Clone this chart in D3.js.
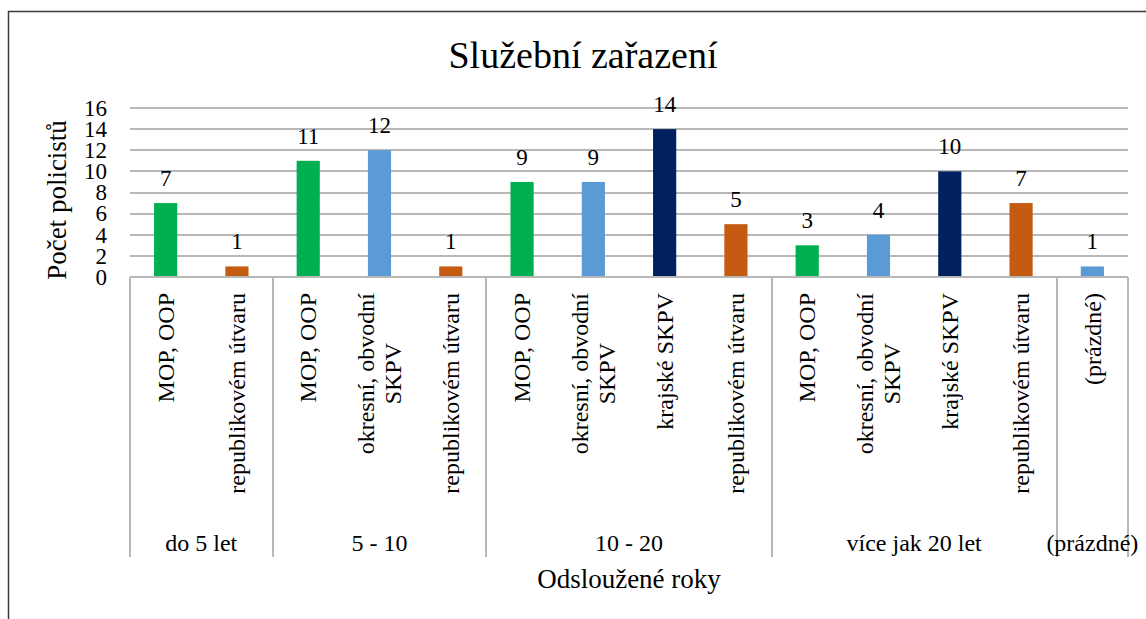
<!DOCTYPE html>
<html>
<head>
<meta charset="utf-8">
<script src="https://cdn.jsdelivr.net/npm/d3@7"></script>
</head>
<body style="margin:0; background:#fff">
<script>
// data
var groups = ['do 5 let', '5 - 10', '10 - 20', 'více jak 20 let', '(prázdné)'];
var categoryGroups = ['do 5 let', 'do 5 let',
  '5 - 10', '5 - 10', '5 - 10',
  '10 - 20', '10 - 20', '10 - 20', '10 - 20',
  'více jak 20 let', 'více jak 20 let', 'více jak 20 let', 'více jak 20 let',
  '(prázdné)'];
var categoryLabels = ['MOP, OOP', 'republikovém útvaru',
  'MOP, OOP', 'okresní, obvodní\nSKPV', 'republikovém útvaru',
  'MOP, OOP', 'okresní, obvodní\nSKPV', 'krajské SKPV', 'republikovém útvaru',
  'MOP, OOP', 'okresní, obvodní\nSKPV', 'krajské SKPV', 'republikovém útvaru',
  '(prázdné)'];
var values = [7, 1, 11, 12, 1, 9, 9, 14, 5, 3, 4, 10, 7, 1];
var yTicks = [0, 2, 4, 6, 8, 10, 12, 14, 16];

var colors = {
  'MOP, OOP': '#00b050',
  'okresní, obvodní\nSKPV': '#5b9bd5',
  'krajské SKPV': '#002060',
  'republikovém útvaru': '#c55a11',
  '(prázdné)': '#5b9bd5'
};

var width = 1146, height = 619;
var plot = { left: 130, right: 1128, top: 108, bottom: 277 };
var gridColor = '#b8b8b8';
var serif = '"Liberation Serif", "Times New Roman", serif';

var svg = d3.select('body').append('svg')
  .attr('width', width).attr('height', height);

// chart frame
svg.append('rect')
  .attr('x', 8.5).attr('y', 11.5)
  .attr('width', 1160).attr('height', 620)
  .attr('fill', 'none').attr('stroke', '#3a3a3a').attr('stroke-width', 1.5);

var x = d3.scaleBand()
  .domain(d3.range(values.length))
  .range([plot.left, plot.right])
  .padding(0);

var y = d3.scaleLinear()
  .domain([0, 16])
  .range([plot.bottom, plot.top]);

// gridlines
svg.append('g').selectAll('line')
  .data(yTicks.filter(function (d) { return d > 0; }))
  .enter().append('line')
  .attr('x1', plot.left).attr('x2', plot.right)
  .attr('y1', function (d) { return Math.round(y(d)); })
  .attr('y2', function (d) { return Math.round(y(d)); })
  .attr('stroke', gridColor).attr('stroke-width', 2);

// y tick labels
svg.append('g').selectAll('text')
  .data(yTicks)
  .enter().append('text')
  .attr('x', 107)
  .attr('y', function (d) { return y(d); })
  .attr('dy', '0.34em')
  .attr('text-anchor', 'end')
  .style('font-size', '23px')
  .text(function (d) { return d; });

// bars
var barW = x.bandwidth() * 0.325;
svg.append('g').selectAll('rect')
  .data(values)
  .enter().append('rect')
  .attr('x', function (d, i) { return x(i) + (x.bandwidth() - barW) / 2; })
  .attr('y', function (d) { return y(d); })
  .attr('width', barW)
  .attr('height', function (d) { return y(0) - y(d); })
  .attr('fill', function (d, i) { return colors[categoryLabels[i]]; });

// value labels
svg.append('g').selectAll('text')
  .data(values)
  .enter().append('text')
  .attr('x', function (d, i) { return x(i) + x.bandwidth() / 2; })
  .attr('y', function (d) { return y(d) - 17; })
  .attr('text-anchor', 'middle')
  .style('font-size', '23px')
  .text(function (d) { return d; });

// category axis line
svg.append('line')
  .attr('x1', plot.left).attr('x2', plot.right)
  .attr('y1', plot.bottom).attr('y2', plot.bottom)
  .attr('stroke', gridColor).attr('stroke-width', 2);

// group boundaries
var bounds = [0];
groups.forEach(function (g) {
  bounds.push(bounds[bounds.length - 1] + categoryGroups.filter(function (c) { return c === g; }).length);
});
svg.append('g').selectAll('line')
  .data(bounds)
  .enter().append('line')
  .attr('x1', function (b) { return Math.round(plot.left + b * x.step()); })
  .attr('x2', function (b) { return Math.round(plot.left + b * x.step()); })
  .attr('y1', plot.bottom).attr('y2', 557)
  .attr('stroke', gridColor).attr('stroke-width', 2);

// rotated category labels, top-aligned under the axis
var labelTop = 293, lineGap = 27;
categoryLabels.forEach(function (label, i) {
  var lines = label.split('\n');
  var cx = x(i) + x.bandwidth() / 2;
  var t = svg.append('text')
    .attr('transform', 'translate(' + cx + ',' + labelTop + ') rotate(-90)')
    .style('font-family', serif)
    .style('font-size', '24px');
  lines.forEach(function (ln, k) {
    t.append('tspan')
      .attr('x', 0)
      .attr('y', (k - (lines.length - 1) / 2) * lineGap)
      .attr('dy', '0.34em')
      .text(ln);
  });
  if (lines.length === 1) {
    t.attr('text-anchor', 'end');
  } else {
    var maxLen = d3.max(t.selectAll('tspan').nodes(), function (n) { return n.getComputedTextLength(); });
    t.attr('text-anchor', 'middle');
    t.selectAll('tspan').attr('x', -maxLen / 2);
  }
});

// group labels
groups.forEach(function (g, j) {
  var cx = plot.left + (bounds[j] + bounds[j + 1]) / 2 * x.step();
  svg.append('text')
    .attr('x', cx).attr('y', 551)
    .attr('text-anchor', 'middle')
    .style('font-size', '24px')
    .text(g);
});

// titles
svg.append('text')
  .attr('x', 583).attr('y', 68)
  .attr('text-anchor', 'middle')
  .style('font-size', '38px')
  .text('Služební zařazení');

svg.append('text')
  .attr('x', (plot.left + plot.right) / 2).attr('y', 588)
  .attr('text-anchor', 'middle')
  .style('font-size', '27px')
  .text('Odsloužené roky');

svg.append('text')
  .attr('transform', 'translate(57,200) rotate(-90)')
  .attr('dy', '0.34em')
  .attr('text-anchor', 'middle')
  .style('font-size', '27px')
  .text('Počet policistů');

// every label in the serif face
svg.selectAll('text').style('font-family', serif).style('fill', '#000');
</script>
</body>
</html>
